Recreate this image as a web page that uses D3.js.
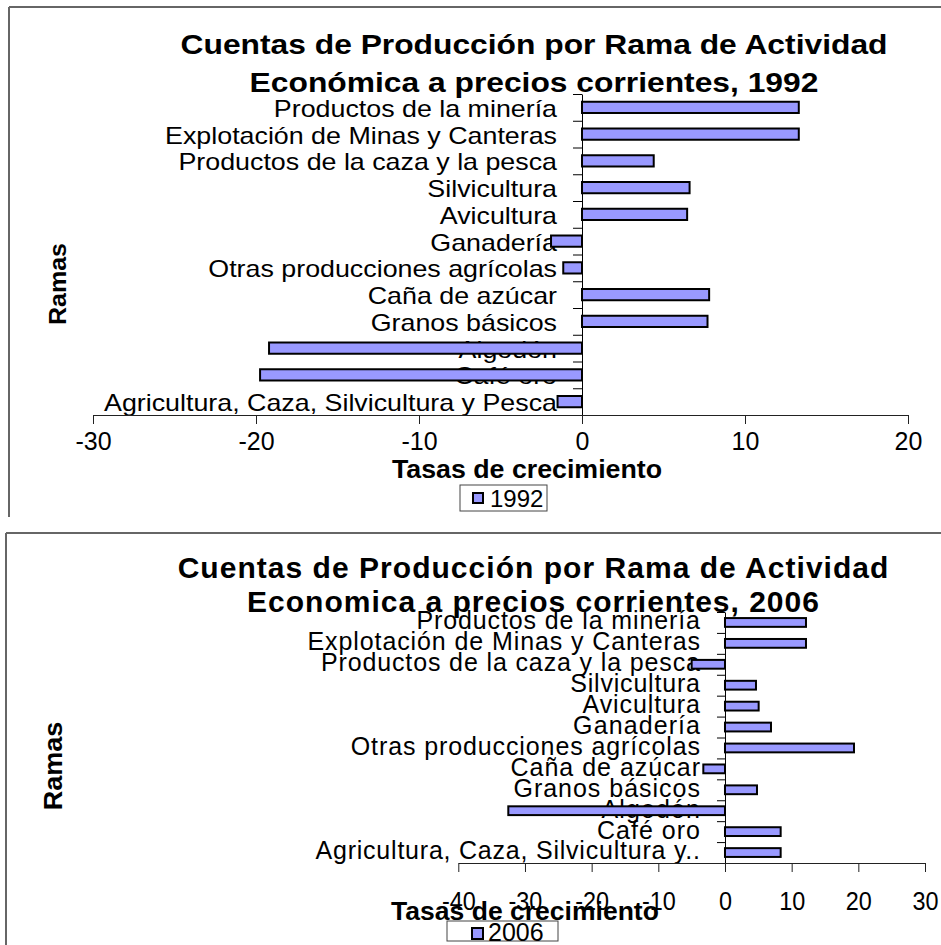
<!DOCTYPE html>
<html><head><meta charset="utf-8">
<script src="https://cdn.jsdelivr.net/npm/d3@7"></script>
<style>body{margin:0;background:#fff;} svg{display:block;}</style>
</head><body>
<svg id="c" width="941" height="945"></svg>
<script>
// ---------- data ----------
const categories1992 = ["Productos de la minería", "Explotación de Minas y Canteras", "Productos de la caza y la pesca", "Silvicultura", "Avicultura", "Ganadería", "Otras producciones agrícolas", "Caña de azúcar", "Granos básicos", "Algodón", "Café oro", "Agricultura, Caza, Silvicultura y Pesca"];
const values1992 = [13.3, 13.3, 4.4, 6.6, 6.45, -1.9, -1.15, 7.8, 7.7, -19.2, -19.75, -1.5];
const ticks1992 = [-30, -20, -10, 0, 10, 20];
const title1992 = ["Cuentas de Producción por Rama de Actividad", "Económica a precios corrientes, 1992"];
const legend1992 = "1992";

const categories2006 = ["Productos de la minería", "Explotación de Minas y Canteras", "Productos de la caza y la pesca", "Silvicultura", "Avicultura", "Ganadería", "Otras producciones agrícolas", "Caña de azúcar", "Granos básicos", "Algodón", "Café oro", "Agricultura, Caza, Silvicultura y.."];
const values2006 = [12.15, 12.15, -5.0, 4.65, 5.05, 6.9, 19.35, -3.25, 4.8, -32.5, 8.35, 8.35];
const ticks2006 = [-40, -30, -20, -10, 0, 10, 20, 30];
const title2006 = ["Cuentas de Producción por Rama de Actividad", "Economica a precios corrientes, 2006"];
const legend2006 = "2006";

const xAxisTitle = "Tasas de crecimiento";
const yAxisTitle = "Ramas";

// ---------- drawing ----------
const FONT = "'Liberation Sans', Arial, Helvetica, sans-serif";
const BAR_FILL = "#9999FF";
const svg = d3.select("#c");

function stretch(sel, sx, mode) {
  sel.each(function () {
    const w = this.getComputedTextLength();
    d3.select(this).attr("textLength", w * sx).attr("lengthAdjust", mode || "spacingAndGlyphs");
  });
}

function drawChart(cats, vals, ticks, titleLines, legendLabel, L, id) {
  const g = svg.append("g");

  // frame
  g.append("line").attr("x1", L.frame.x).attr("x2", 941).attr("y1", L.frame.y).attr("y2", L.frame.y)
    .attr("stroke", "#333").attr("stroke-width", 1.5);
  g.append("line").attr("x1", L.frame.x).attr("x2", L.frame.x).attr("y1", L.frame.y).attr("y2", L.frame.bottom)
    .attr("stroke", "#666").attr("stroke-width", 2);

  const x = d3.scaleLinear().domain([ticks[0], ticks[ticks.length - 1]]).range([L.x0, L.x1]);
  const y = d3.scaleBand().domain(cats).range([L.yTop, L.yBot]).paddingInner(0.58).paddingOuter(0.29);
  const yIdx = d3.scaleLinear().domain([0, cats.length]).range([L.yTop, L.yBot]);

  // category labels
  const labels = g.append("g").selectAll("text").data(cats).join("text")
    .attr("x", L.labelX)
    .attr("y", d => y(d) + y.bandwidth() / 2 + 0.358 * L.labelFs + L.labelDy)
    .attr("text-anchor", "end")
    .attr("font-family", FONT).attr("font-size", L.labelFs).attr("fill", "#000")
    .text(d => d);
  stretch(labels, L.labelSx, L.labelMode);

  // bars
  g.append("g").selectAll("rect").data(cats.map((c, i) => ({ c, v: vals[i] }))).join("rect")
    .attr("x", d => x(Math.min(0, d.v)))
    .attr("width", d => Math.abs(x(d.v) - x(0)))
    .attr("y", d => y(d.c))
    .attr("height", y.bandwidth())
    .attr("fill", BAR_FILL).attr("stroke", "#000").attr("stroke-width", 2);

  // category axis (at x = 0) with boundary ticks
  const ya = g.append("g").attr("transform", `translate(${x(0)},0)`)
    .call(d3.axisLeft(yIdx).tickValues(d3.range(cats.length + 1)).tickFormat("").tickSize(L.yTick).tickSizeOuter(0));
  ya.selectAll("path,line").attr("stroke", "#000").attr("stroke-width", 1);

  // value axis
  const xa = g.append("g").attr("transform", `translate(0,${L.yBot})`)
    .call(d3.axisBottom(x).tickValues(ticks).tickFormat(d => String(d)).tickSize(9).tickSizeOuter(0));
  xa.selectAll("path,line").attr("stroke", "#222").attr("stroke-width", 1);
  const tt = xa.selectAll("text")
    .attr("y", L.tickY - L.yBot).attr("dy", 0)
    .attr("font-family", FONT).attr("font-size", L.tickFs).attr("fill", "#000");
  stretch(tt, L.tickSx);

  // axis titles
  const xt = g.append("text").attr("x", L.xtX).attr("y", L.xtY).attr("text-anchor", "middle")
    .attr("font-family", FONT).attr("font-weight", "bold").attr("font-size", L.xtFs).text(xAxisTitle);
  stretch(xt, L.xtSx);
  const yt = g.append("text").attr("transform", `translate(${L.ramas.x},${L.ramas.y}) rotate(-90)`)
    .attr("text-anchor", "middle").attr("dy", 0.358 * L.ramas.fs)
    .attr("font-family", FONT).attr("font-weight", "bold").attr("font-size", L.ramas.fs).text(yAxisTitle);
  stretch(yt, 1.04);

  // legend
  const lg = g.append("g");
  lg.append("clipPath").attr("id", "lc" + id).append("rect")
    .attr("x", L.legend.x).attr("y", L.legend.y).attr("width", L.legend.w).attr("height", L.legend.h);
  lg.append("rect").attr("x", L.legend.x).attr("y", L.legend.y).attr("width", L.legend.w).attr("height", L.legend.h)
    .attr("fill", "#fff").attr("stroke", "#444").attr("stroke-width", 1);
  lg.append("rect").attr("x", L.legend.sq[0]).attr("y", L.legend.sq[1]).attr("width", L.legend.sq[2]).attr("height", L.legend.sq[2])
    .attr("fill", BAR_FILL).attr("stroke", "#000").attr("stroke-width", 2);
  lg.append("text").attr("x", L.legend.tx).attr("y", L.legend.ty).attr("clip-path", `url(#lc${id})`)
    .attr("font-family", FONT).attr("font-size", L.legend.fs).text(legendLabel);

  // chart title (drawn last, on top)
  titleLines.forEach((t, i) => {
    const tl = g.append("text").attr("x", L.titleX).attr("y", L.titleY[i]).attr("text-anchor", "middle")
      .attr("font-family", FONT).attr("font-weight", "bold").attr("font-size", L.titleFs).text(t);
    stretch(tl, L.titleSx, L.titleMode);
  });
}

drawChart(categories1992, values1992, ticks1992, title1992, legend1992, {
  frame: { x: 9, y: 7, bottom: 517 },
  x0: 93, x1: 908, yTop: 94, yBot: 415, yTick: 9,
  labelX: 557, labelFs: 24, labelSx: 1.117, labelMode: "spacingAndGlyphs", labelDy: 1,
  tickFs: 25, tickY: 450, tickSx: 1.0,
  xtX: 527, xtY: 478, xtFs: 25, xtSx: 1.07,
  ramas: { x: 57, y: 284, fs: 24 },
  legend: { x: 460, y: 485, w: 87, h: 26, sq: [473, 493, 10], tx: 490, ty: 507, fs: 24 },
  titleX: 534, titleY: [54, 92], titleFs: 28, titleSx: 1.135, titleMode: "spacingAndGlyphs"
}, 1);

drawChart(categories2006, values2006, ticks2006, title2006, legend2006, {
  frame: { x: 6, y: 533, bottom: 945 },
  x0: 458.3, x1: 925, yTop: 612, yBot: 863, yTick: 8,
  labelX: 700, labelFs: 25, labelSx: 1.074, labelMode: "spacing", labelDy: -2,
  tickFs: 26, tickY: 910, tickSx: 0.9,
  xtX: 525, xtY: 920, xtFs: 26, xtSx: 1.02,
  ramas: { x: 53, y: 766, fs: 26 },
  legend: { x: 447, y: 921, w: 111, h: 20, sq: [472, 928, 11], tx: 488, ty: 941, fs: 25 },
  titleX: 533, titleY: [578, 612], titleFs: 30, titleSx: 1.065, titleMode: "spacing"
}, 2);
</script>
</body></html>
